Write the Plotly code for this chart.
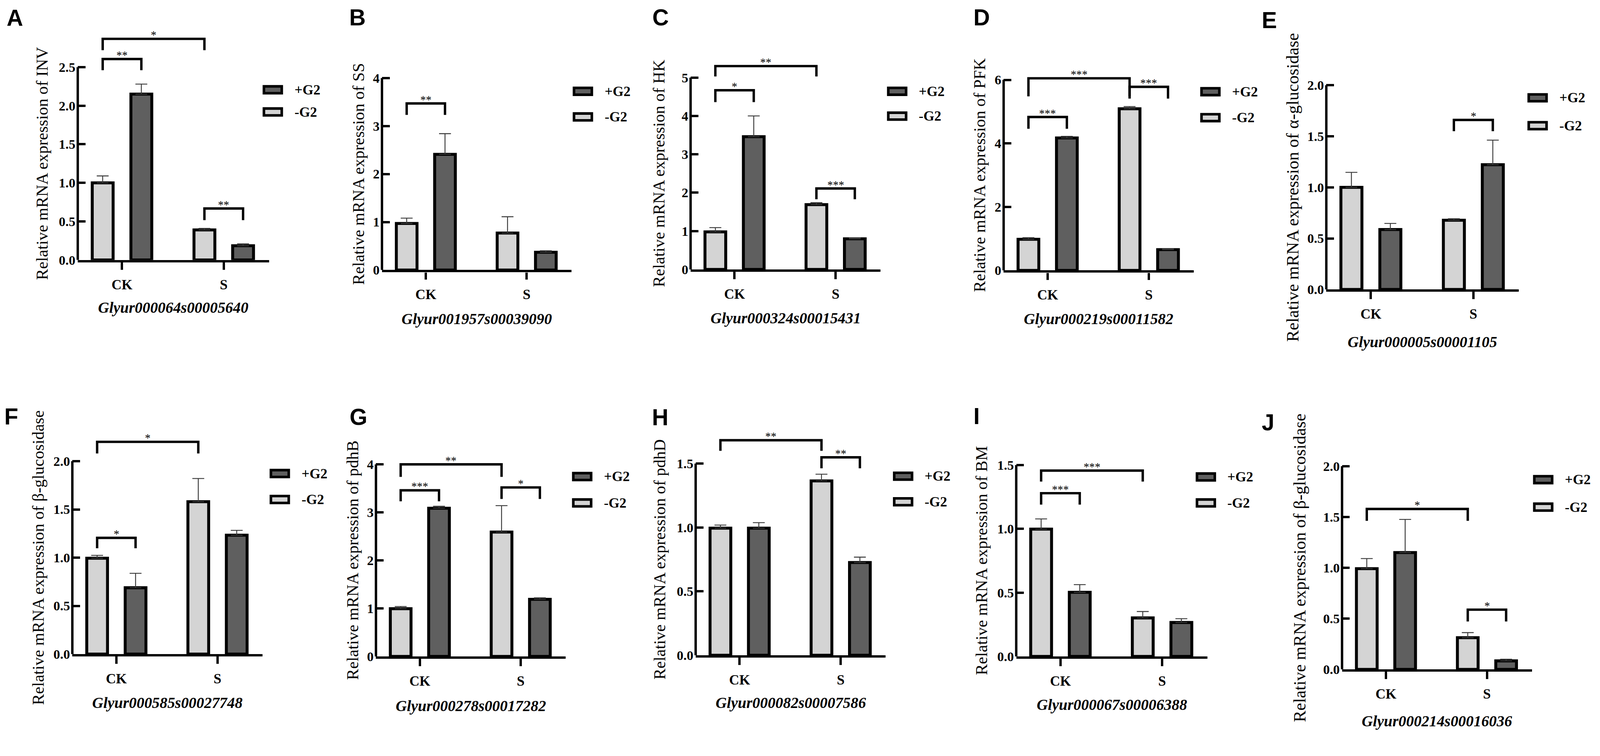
import plotly.graph_objects as go

# geometry below is measured in reference pixels (4550 x 1936) and placed as
# fractions of the page; the page is sized to fill the browser viewport
W, H = 4550, 1936
FIG_W, FIG_H = 4072, 1912
KX, KY = FIG_W / W, FIG_H / H
KA = (KX + KY) / 2

# ---- data ----
cats = ["CK", "S"]
letters = ["A", "B", "C", "D", "E", "F", "G", "H", "I", "J"]
y_titles = [
    "Relative mRNA expression of INV",
    "Relative mRNA expression of SS",
    "Relative mRNA expression of HK",
    "Relative mRNA expression of PFK",
    "Relative mRNA expression of α-glucosidase",
    "Relative mRNA expression of β-glucosidase",
    "Relative mRNA expression of pdhB",
    "Relative mRNA expression of pdhD",
    "Relative mRNA expression of BM",
    "Relative mRNA expression of β-glucosidase",
]
genes = [
    "Glyur000064s00005640", "Glyur001957s00039090", "Glyur000324s00015431",
    "Glyur000219s00011582", "Glyur000005s00001105", "Glyur000585s00027748",
    "Glyur000278s00017282", "Glyur000082s00007586", "Glyur000067s00006388",
    "Glyur000214s00016036",
]
# -G2 (light) and +G2 (dark): values for CK, S
minus_g2 = [[1.00, 0.39], [0.97, 0.77], [0.98, 1.69], [0.98, 5.09], [1.00, 0.678],
            [0.994, 1.58], [0.995, 2.59], [0.995, 1.365], [0.998, 0.302], [0.991, 0.312]]
minus_err = [[0.09, 0.02], [0.11, 0.34], [0.11, 0.05], [0.05, 0.07], [0.147, 0.015],
             [0.03, 0.24], [0.045, 0.55], [0.024, 0.052], [0.08, 0.05], [0.10, 0.05]]
plus_g2 = [[2.15, 0.185], [2.41, 0.37], [3.46, 0.80], [4.17, 0.655], [0.587, 1.222],
           [0.688, 1.233], [3.087, 1.19], [0.995, 0.726], [0.503, 0.266], [1.15, 0.084]]
plus_err = [[0.13, 0.025], [0.43, 0.03], [0.54, 0.02], [0.05, 0.02], [0.06, 0.24],
            [0.15, 0.05], [0.04, 0.03], [0.043, 0.042], [0.06, 0.03], [0.326, 0.016]]
y_top_tick = [2.5, 4, 5, 6, 2.0, 2.0, 4, 1.5, 1.5, 2.0]
y_dtick = [0.5, 1, 1, 2, 0.5, 0.5, 1, 0.5, 0.5, 0.5]
y_fmt = [".1f", "d", "d", "d", ".1f", ".1f", "d", ".1f", ".1f", ".1f"]
# significance brackets: (bar a, bar b, top, leg end, label); bars 0=CK-G2 1=CK+G2 2=S-G2 3=S+G2
brackets = [
    [(0, 1, 2.605, 2.46, "**"), (0, 2, 2.866, 2.72, "*"), (2, 3, 0.668, 0.517, "**")],
    [(0, 1, 3.47, 3.23, "**")],
    [(0, 2, 5.30, 5.03, "**"), (0, 1, 4.67, 4.36, "*"), (2, 3, 2.11, 1.83, "***")],
    [(0, 2, 6.05, 5.48, "***"), (2, 3, 5.78, 5.41, "***"), (0, 1, 4.83, 4.46, "***")],
    [(2, 3, 1.66, 1.55, "*")],
    [(0, 2, 2.20, 2.08, "*"), (0, 1, 1.205, 1.097, "*")],
    [(0, 2, 4.0, 3.74, "**"), (0, 1, 3.46, 3.23, "***"), (2, 3, 3.52, 3.28, "*")],
    [(0, 2, 1.683, 1.60, "**"), (2, 3, 1.549, 1.463, "**")],
    [(0, 2, 1.457, 1.371, "***"), (0, 1, 1.28, 1.19, "***")],
    [(0, 2, 1.579, 1.462, "*"), (2, 3, 0.588, 0.472, "*")],
]

# ---- layout (reference pixels) ----
# axis left, axis right, baseline y, top tick y
boxes = [(213.5, 760.6, 672.8, 167.6), (1083.7, 1626, 699, 196), (1966.5, 2510, 697.5, 195),
         (2862, 3406, 700, 201), (3785, 4336, 750, 215), (198, 742, 1705, 1199.6),
         (1066.5, 1609, 1711, 1208), (1981, 2524.5, 1708, 1206), (2898, 3444.5, 1711, 1210),
         (3830, 4373, 1745, 1212.7)]
dom_top = [60, 60, 60, 60, 60, 1090, 1090, 1090, 1090, 1090]
title_x = [112, 1016, 1875, 2793, 3688, 100, 999, 1878, 2798, 3709]
title_size = [43, 43, 43, 43, 45, 43, 43, 43, 43, 45]
gene_y = [798, 827, 825, 827, 888, 1833, 1841, 1833, 1838, 1881]
leg_left = [743, 1630, 2529, 3425, 4361, 763, 1628, 2546, 3412, 4377]
leg_y = [(227, 285), (231, 298), (231, 296), (232, 300), (248, 321),
         (1232, 1300), (1240, 1309), (1239, 1306), (1241, 1309), (1248, 1320)]
letter_xy = [(34, 38), (1013, 37), (1881, 37), (2799, 37), (3622, 44),
             (24, 1083), (1016, 1084), (1879, 1085), (2784, 1082), (3618, 1098)]

LIGHT, DARK, ERR = "#d4d4d4", "#5f5f5f", "#3a3a3a"
SERIF = "Liberation Serif"
BARGAP, GROUPGAP = 0.24, 0.46
off = (1 - BARGAP) / 4
LW = 6.5 * KA     # axes and brackets
BW = 8 * KA       # bar outlines

fig = go.Figure()
shapes, annos = [], []

for k in range(10):
    n = "" if k == 0 else str(k + 1)
    xa, ya = "x" + n, "y" + n
    x0, x1, yb, yt = boxes[k]
    top = y_top_tick[k]
    ppu = (yb - yt) / top
    r_top = (yb - dom_top[k]) / ppu
    xs = list(range(len(cats)))

    fig.add_trace(go.Bar(
        x=xs, y=minus_g2[k], name="-G2", xaxis=xa, yaxis=ya, showlegend=False,
        marker=dict(color=LIGHT, line=dict(color="black", width=BW)),
        error_y=dict(type="data", symmetric=False, array=minus_err[k], arrayminus=[0, 0],
                     color=ERR, thickness=2.5 * KA, width=17 * KX)))
    fig.add_trace(go.Bar(
        x=xs, y=plus_g2[k], name="+G2", xaxis=xa, yaxis=ya, showlegend=False,
        marker=dict(color=DARK, line=dict(color="black", width=BW)),
        error_y=dict(type="data", symmetric=False, array=plus_err[k], arrayminus=[0, 0],
                     color=ERR, thickness=2.5 * KA, width=17 * KX)))

    nt = int(round(top / y_dtick[k]))
    fig.update_layout(**{
        "xaxis" + n: dict(domain=[x0 / W, x1 / W], range=[-0.435, 1.445], anchor=ya,
                          tickvals=xs, ticktext=cats, showgrid=False, zeroline=False,
                          showline=True, linewidth=LW, linecolor="black",
                          ticks="outside", ticklen=19 * KY, tickwidth=LW, tickcolor="black",
                          ticklabelstandoff=int(8 * KY),
                          tickfont=dict(family=SERIF, size=40 * KX, color="black", weight="bold")),
        "yaxis" + n: dict(domain=[1 - yb / H, 1 - dom_top[k] / H], range=[0, r_top], anchor=xa,
                          tickvals=[i * y_dtick[k] for i in range(nt + 1)], tickformat=y_fmt[k],
                          showgrid=False, zeroline=False, showline=False,
                          ticks="inside", ticklen=22 * KX, tickwidth=LW, tickcolor="black",
                          ticklabelstandoff=int(6 * KX),
                          tickfont=dict(family=SERIF, size=38 * KX, color="black", weight="bold")),
    })

    # y axis line only up to the top tick
    shapes.append(dict(type="line", xref=xa + " domain", yref=ya, x0=0, x1=0, y0=0, y1=top,
                       line=dict(color="black", width=LW)))

    # significance brackets
    def bx(i):
        return (i // 2) + (-off if i % 2 == 0 else off)
    for a, b, ytop, yleg, lab in brackets[k]:
        xa0, xa1 = bx(a), bx(b)
        shapes.append(dict(type="path", xref=xa, yref=ya,
                           path=f"M {xa0},{yleg} L {xa0},{ytop} L {xa1},{ytop} L {xa1},{yleg}",
                           line=dict(color="black", width=LW)))
        annos.append(dict(x=(xa0 + xa1) / 2, y=ytop, xref=xa, yref=ya, text=lab,
                          showarrow=False, xanchor="center", yanchor="bottom", yshift=-8 * KY,
                          font=dict(family=SERIF, size=32 * KX, color="black")))

    # y title, gene name, panel letter
    annos.append(dict(x=title_x[k] / W, y=1 - (yb + yt) / 2 / H, xref="paper", yref="paper",
                      text=y_titles[k], textangle=-90, showarrow=False,
                      xanchor="center", yanchor="middle",
                      font=dict(family=SERIF, size=title_size[k] * KY, color="black")))
    annos.append(dict(x=(x0 + x1) / 2 / W, y=1 - gene_y[k] / H, xref="paper", yref="paper",
                      text="<b><i>" + genes[k] + "</i></b>", showarrow=False,
                      xanchor="center", yanchor="middle",
                      font=dict(family=SERIF, size=44 * KX, color="black")))
    lx, ly = letter_xy[k]
    annos.append(dict(x=lx / W, y=1 - ly / H, xref="paper", yref="paper",
                      text="<b>" + letters[k] + "</b>", showarrow=False,
                      xanchor="center", yanchor="middle",
                      font=dict(family="Liberation Sans", size=62 * KA, color="black")))

    # legend drawn by hand: +G2 dark on top, -G2 light below
    for (cy, col, lab) in [(leg_y[k][0], DARK, "+G2"), (leg_y[k][1], LIGHT, "-G2")]:
        sx = leg_left[k]
        shapes.append(dict(type="rect", xref="paper", yref="paper",
                           x0=(sx + 3) / W, x1=(sx + 54) / W,
                           y0=1 - (cy + 9) / H, y1=1 - (cy - 9) / H,
                           fillcolor=col, line=dict(color="black", width=7 * KA)))
        annos.append(dict(x=(sx + 88) / W, y=1 - cy / H, xref="paper", yref="paper",
                          text="<b>" + lab + "</b>", showarrow=False,
                          xanchor="left", yanchor="middle",
                          font=dict(family=SERIF, size=40 * KX, color="black")))

fig.update_layout(
    width=FIG_W, height=FIG_H, margin=dict(l=0, r=0, t=0, b=0),
    paper_bgcolor="white", plot_bgcolor="white",
    barmode="group", bargap=BARGAP, bargroupgap=GROUPGAP,
    shapes=shapes, annotations=annos,
)

fig.write_html("out.html")
